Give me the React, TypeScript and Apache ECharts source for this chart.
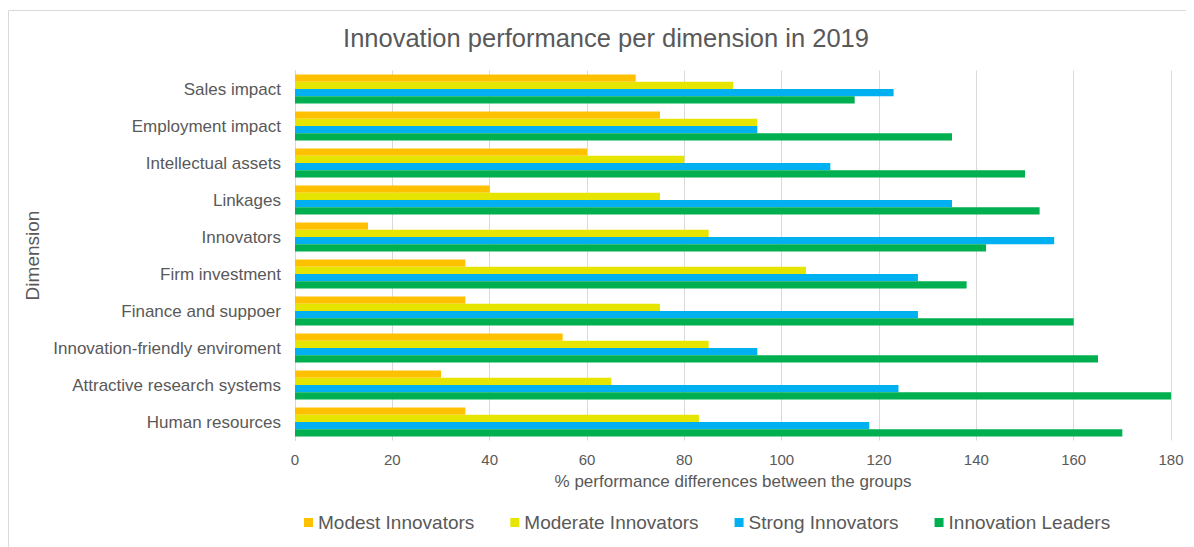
import React, { useEffect, useRef } from "react";
import * as echarts from "echarts";

const categories = [
  "Sales impact",
  "Employment impact",
  "Intellectual assets",
  "Linkages",
  "Innovators",
  "Firm investment",
  "Finance and suppoer",
  "Innovation-friendly enviroment",
  "Attractive research systems",
  "Human resources",
];
const seriesNames = ["Modest Innovators", "Moderate Innovators", "Strong Innovators", "Innovation Leaders"];
const modest = [70, 75, 60, 40, 15, 35, 35, 55, 30, 35];
const moderate = [90, 95, 80, 75, 85, 105, 75, 85, 65, 83];
const strong = [123, 95, 110, 135, 156, 128, 128, 95, 124, 118];
const leaders = [115, 135, 150, 153, 142, 138, 160, 165, 180, 170];
const colors = ["#FFC000", "#E5E500", "#00B0F0", "#00B050"];

const FONT = "'Liberation Sans', Arial, sans-serif";
const TXT = "#595959";

export default function App() {
  const ref = useRef<HTMLDivElement>(null);
  useEffect(() => {
    if (!ref.current) return;
    const chart = echarts.init(ref.current, null, { renderer: "svg" });
    const data = [modest, moderate, strong, leaders];
    chart.setOption({
      animation: false,
      textStyle: { fontFamily: FONT },
      graphic: [
        {
          type: "rect",
          shape: { x: 0.5, y: 2.5, width: 1300, height: 700 },
          style: { fill: "none", stroke: "#d9d9d9", lineWidth: 1 },
          silent: true,
        },
      ],
      title: {
        text: "Innovation performance per dimension in 2019",
        left: 593,
        textAlign: "center",
        top: 12,
        textStyle: { fontFamily: FONT, fontSize: 25.5, fontWeight: "normal", color: TXT },
      },
      legend: {
        left: 291,
        top: 500,
        itemWidth: 9,
        itemHeight: 9,
        itemGap: 36,
        icon: "rect",
        textStyle: { fontFamily: FONT, fontSize: 19, color: TXT },
        data: seriesNames,
      },
      grid: { left: 287, top: 62.5, width: 876, height: 370, containLabel: false },
      xAxis: {
        type: "value",
        min: 0,
        max: 180,
        interval: 20,
        name: "% performance differences between the groups",
        nameLocation: "middle",
        nameGap: 32,
        nameTextStyle: { fontFamily: FONT, fontSize: 17, color: TXT },
        axisLine: { show: false },
        axisTick: { show: false },
        axisLabel: { fontFamily: FONT, fontSize: 15, color: TXT, margin: 11 },
        splitLine: { show: true, lineStyle: { color: "#d9d9d9", width: 1 } },
      },
      yAxis: {
        type: "category",
        data: categories,
        inverse: true,
        name: "Dimension",
        nameLocation: "middle",
        nameGap: 239,
        nameTextStyle: { fontFamily: FONT, fontSize: 19, color: TXT },
        axisLine: { show: true, lineStyle: { color: "#d9d9d9" } },
        axisTick: { show: false },
        axisLabel: { fontFamily: FONT, fontSize: 17, color: TXT, margin: 14 },
      },
      series: seriesNames.map((name, i) => ({
        name,
        type: "bar",
        data: data[i],
        barGap: "0%",
        barCategoryGap: "22%",
        itemStyle: { color: colors[i] },
      })),
    });
    return () => chart.dispose();
  }, []);
  return <div ref={ref} style={{ width: 1186, height: 539 }} />;
}
